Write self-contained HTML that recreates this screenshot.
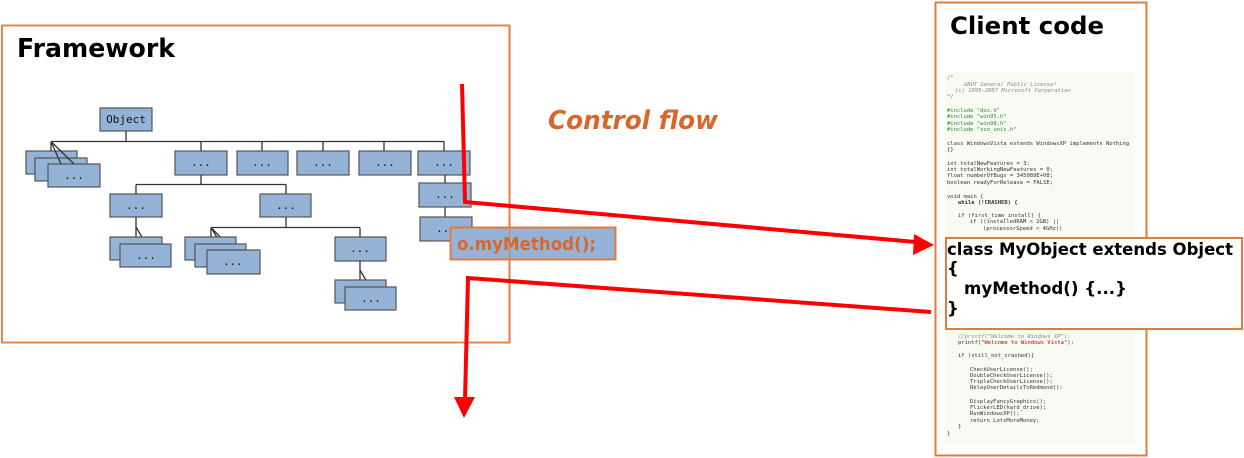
<!DOCTYPE html>
<html><head><meta charset="utf-8"><style>
html,body{margin:0;padding:0;background:#fff;width:1244px;height:458px;overflow:hidden}
svg{display:block}
.b{fill:#95b3d7;stroke:#555;stroke-width:1.2}
.d{font-family:"DejaVu Sans Mono","Liberation Mono",monospace;font-size:11px;fill:#111;text-anchor:middle}
.c{font-family:"DejaVu Sans Mono","Liberation Mono",monospace;font-size:5.5px;fill:#333}
.l{stroke:#333;stroke-width:1.3;fill:none}
</style></head><body>
<svg width="1244" height="458" xmlns="http://www.w3.org/2000/svg">
<rect x="2" y="25.5" width="507.5" height="317" fill="#fff" stroke="#e07b40" stroke-width="2" opacity="0.9"/>
<text x="17" y="57" font-family="'DejaVu Sans',sans-serif" font-weight="bold" font-size="26" textLength="158" lengthAdjust="spacingAndGlyphs">Framework</text>
<rect class="b" x="100" y="108" width="52" height="23"/>
<text x="126" y="123" class="d" font-size="10">Object</text>
<path class="l" d="M126 131V141.5M51 141.5H444M201 141.5V151M262 141.5V151M323 141.5V151M384 141.5V151M444 141.5V151"/>
<rect class="b" x="26" y="151" width="51" height="23"/>
<rect class="b" x="35" y="158" width="52" height="23"/>
<rect class="b" x="48" y="164" width="52" height="23"/>
<text x="74" y="179" class="d">...</text>
<path class="l" d="M51 141.5V151M51 141.5L61 164M51 141.5L74 164"/>
<rect class="b" x="175" y="151" width="52" height="24"/><text x="201" y="166" class="d">...</text>
<rect class="b" x="237" y="151" width="51" height="24"/><text x="262" y="166" class="d">...</text>
<rect class="b" x="297" y="151" width="52" height="24"/><text x="323" y="166" class="d">...</text>
<rect class="b" x="359" y="151" width="52" height="24"/><text x="385" y="166" class="d">...</text>
<rect class="b" x="418" y="151" width="52" height="24"/><text x="444" y="166" class="d">...</text>
<path class="l" d="M445 175V183M445 207V217"/>
<rect class="b" x="419" y="183" width="52" height="24"/><text x="445" y="198" class="d">...</text>
<rect class="b" x="420" y="217" width="52" height="24"/><text x="446" y="232" class="d">...</text>
<path class="l" d="M201 175V184.5M136 184.5H286M136 184.5V194M286 184.5V194"/>
<rect class="b" x="110" y="194" width="52" height="23"/><text x="136" y="209" class="d">...</text>
<rect class="b" x="260" y="194" width="51" height="23"/><text x="286" y="209" class="d">...</text>
<path class="l" d="M136 217V237M136 227L146 244"/>
<rect class="b" x="110" y="237" width="52" height="23"/>
<rect class="b" x="120" y="244" width="51" height="23"/><text x="146" y="259" class="d">...</text>
<path class="l" d="M286 217V227.5M211 227.5H360M360 227.5V237M211 227.5V237M211 227.5L221 244M211 227.5L233 250"/>
<rect class="b" x="185" y="237" width="51" height="23"/>
<rect class="b" x="195" y="244" width="51" height="23"/>
<rect class="b" x="207" y="250" width="53" height="24"/><text x="233" y="265" class="d">...</text>
<rect class="b" x="335" y="237" width="51" height="24"/><text x="360" y="252" class="d">...</text>
<path class="l" d="M360 261V280M360 270L370 287"/>
<rect class="b" x="335" y="280" width="51" height="23"/>
<rect class="b" x="345" y="287" width="51" height="23"/><text x="371" y="302" class="d">...</text>
<rect x="450.5" y="227.5" width="165" height="32" fill="#95b3d7" stroke="#e07b40" stroke-width="2"/>
<line x1="509.5" y1="25" x2="509.5" y2="343" stroke="#e07b40" stroke-width="1.5" opacity="0.7"/>
<text x="457" y="250" font-family="'DejaVu Sans',sans-serif" font-weight="bold" font-size="18" fill="#d9662f" textLength="139" lengthAdjust="spacingAndGlyphs">o.myMethod();</text>
<text x="548" y="129" font-family="'DejaVu Sans',sans-serif" font-weight="bold" font-style="italic" font-size="26" fill="#d9662f" textLength="170" lengthAdjust="spacingAndGlyphs">Control flow</text>
<rect x="935.5" y="2.5" width="211" height="453" fill="#fff" stroke="#e07b40" stroke-width="2"/>
<text x="950" y="34" font-family="'DejaVu Sans',sans-serif" font-weight="bold" font-size="24" textLength="154" lengthAdjust="spacingAndGlyphs">Client code</text>
<rect x="945" y="72" width="190" height="373" fill="#fafaf5"/>
<g class="c">
<text x="947" y="79" fill="#888">/*</text>
<text x="964" y="86" fill="#888" font-style="italic">GNOT General Public License!</text>
<text x="955" y="92" fill="#888" font-style="italic">(c) 1995-2007 Microsoft Corporation</text>
<text x="947" y="98" fill="#888">*/</text>
<text x="947" y="112" fill="#2a8a2a">#include "dos.h"</text>
<text x="947" y="118" fill="#2a8a2a">#include "win95.h"</text>
<text x="947" y="125" fill="#2a8a2a">#include "win98.h"</text>
<text x="947" y="131" fill="#2a8a2a">#include "sco_unix.h"</text>
<text x="947" y="145">class WindowsVista extends WindowsXP implements Nothing</text>
<text x="947" y="151">{}</text>
<text x="947" y="165">int totalNewFeatures = 3;</text>
<text x="947" y="171">int totalWorkingNewFeatures = 0;</text>
<text x="947" y="177">float numberOfBugs = 345089E+08;</text>
<text x="947" y="184">boolean readyForRelease = FALSE;</text>
<text x="947" y="198">void main {</text>
<text x="958" y="204" font-weight="bold">while (!CRASHED) {</text>
<text x="958" y="217">if (first_time_install) {</text>
<text x="970" y="223">if ((installedRAM &lt; 2GB) ||</text>
<text x="983" y="230">(processorSpeed &lt; 4GHz))</text>
<text x="958" y="338" fill="#888" font-style="italic">//printf("Welcome to Windows XP");</text>
<text x="958" y="344">printf("<tspan fill="#c00">Welcome to Windows Vista</tspan>");</text>
<text x="958" y="357">if (still_not_crashed){</text>
<text x="970" y="371">CheckUserLicense();</text>
<text x="970" y="377">DoubleCheckUserLicense();</text>
<text x="970" y="383">TripleCheckUserLicense();</text>
<text x="970" y="389">RelayUserDetailsToRedmond();</text>
<text x="970" y="403">DisplayFancyGraphics();</text>
<text x="970" y="409">FlickerLED(hard_drive);</text>
<text x="970" y="415">RunWindowsXP();</text>
<text x="970" y="422">return LotsMoreMoney;</text>
<text x="958" y="428">}</text>
<text x="947" y="435">}</text>
</g>
<rect x="946" y="238" width="296" height="91" fill="#fff" stroke="#e07b40" stroke-width="2"/>
<g font-family="'DejaVu Sans',sans-serif" font-weight="bold" font-size="16.5" fill="#000">
<text x="947" y="255" textLength="286" lengthAdjust="spacingAndGlyphs">class MyObject extends Object</text>
<text x="947" y="274">{</text>
<text x="964" y="294" textLength="163" lengthAdjust="spacingAndGlyphs">myMethod() {...}</text>
<text x="947" y="314">}</text>
</g>
<polyline points="462,84 465,202 916,242" fill="none" stroke="#ff0000" stroke-width="4"/>
<polygon points="934,245 914,234 913,255" fill="#ff0000"/>
<polyline points="931,312 468,278 465,400" fill="none" stroke="#ff0000" stroke-width="4"/>
<polygon points="454,397 475,397 464,418" fill="#ff0000"/>
</svg>
</body></html>
